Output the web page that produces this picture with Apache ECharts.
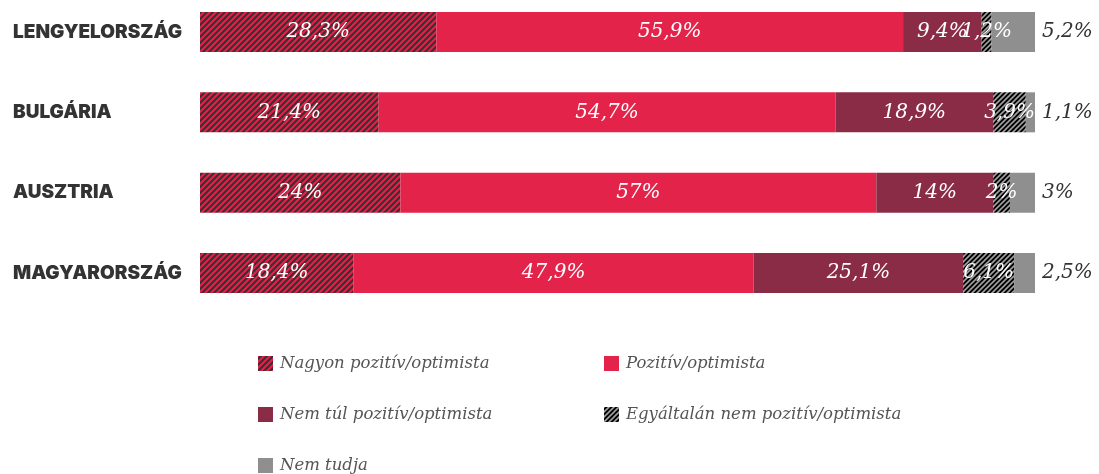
<!DOCTYPE html>
<html>
<head>
<meta charset="utf-8">
<script src="https://cdn.jsdelivr.net/npm/echarts@6/dist/echarts.min.js"></script>
<style>
  html, body { margin: 0; padding: 0; background: #fff; }
  #chart { width: 1099px; height: 474px; }
</style>
</head>
<body>
<div id="chart"></div>
<script>
// adatok
var countries = ['LENGYELORSZÁG', 'BULGÁRIA', 'AUSZTRIA', 'MAGYARORSZÁG'];
var seriesNames = ['Nagyon pozitív/optimista', 'Pozitív/optimista', 'Nem túl pozitív/optimista', 'Egyáltalán nem pozitív/optimista', 'Nem tudja'];
var nagyonPozitiv = [28.3, 21.4, 24, 18.4];
var pozitiv = [55.9, 54.7, 57, 47.9];
var nemTul = [9.4, 18.9, 14, 25.1];
var egyaltalanNem = [1.2, 3.9, 2, 6.1];
var nemTudja = [5.2, 1.1, 3, 2.5];

function stripes(bg, fg, size, width) {
    var c = document.createElement('canvas');
    c.width = size; c.height = size;
    var ctx = c.getContext('2d');
    ctx.fillStyle = bg;
    ctx.fillRect(0, 0, size, size);
    ctx.strokeStyle = fg;
    ctx.lineWidth = width;
    ctx.beginPath();
    ctx.moveTo(0, size); ctx.lineTo(size, 0);
    ctx.moveTo(-2, 2); ctx.lineTo(2, -2);
    ctx.moveTo(size - 2, size + 2); ctx.lineTo(size + 2, size - 2);
    ctx.stroke();
    return { image: c, repeat: 'repeat' };
}

var chart = echarts.init(document.getElementById('chart'));
var serif = 'DejaVu Serif';

function fmt(p) {
    return String(p.value).replace('.', ',') + '%';
}

var colors = [
    stripes('#333333', '#e3234a', 6, 2),
    '#e3234a',
    '#8b2c47',
    stripes('#000000', '#a0a0a0', 5, 1.6),
    '#8f8f8f'
];
var values = [nagyonPozitiv, pozitiv, nemTul, egyaltalanNem, nemTudja];

var series = values.map(function (v, i) {
    var last = i === values.length - 1;
    return {
        name: seriesNames[i],
        type: 'bar',
        stack: 'all',
        barWidth: 40,
        data: v,
        itemStyle: { color: colors[i] },
        emphasis: { disabled: true },
        label: {
            show: true,
            position: last ? 'right' : 'inside',
            distance: last ? 7 : 0,
            formatter: fmt,
            color: last ? '#333' : '#fff',
            fontFamily: serif,
            fontStyle: 'italic',
            fontSize: 20
        }
    };
});

var legendPos = [
    { left: 258, top: 355 },
    { left: 604, top: 355 },
    { left: 258, top: 406 },
    { left: 604, top: 406 },
    { left: 258, top: 457 }
];
var legends = seriesNames.map(function (n, i) {
    return {
        data: [n],
        left: legendPos[i].left,
        top: legendPos[i].top,
        icon: 'rect',
        itemWidth: 15,
        itemHeight: 15,
        itemGap: 0,
        padding: 0,
        selectedMode: false,
        textStyle: {
            fontFamily: serif,
            fontStyle: 'italic',
            fontSize: 16.5,
            color: '#555',
            padding: [0, 0, 0, 2]
        }
    };
});

chart.setOption({
    animation: false,
    grid: { left: 200, right: 64, top: 32, height: 241 },
    xAxis: {
        type: 'value',
        min: 0,
        max: 100,
        show: false
    },
    yAxis: {
        type: 'category',
        inverse: true,
        boundaryGap: false,
        data: countries,
        axisLine: { show: false },
        axisTick: { show: false },
        axisLabel: {
            align: 'left',
            margin: 187,
            color: '#333',
            fontFamily: 'Inter',
            fontWeight: 900,
            fontSize: 19
        }
    },
    legend: legends,
    series: series
});
</script>
</body>
</html>
